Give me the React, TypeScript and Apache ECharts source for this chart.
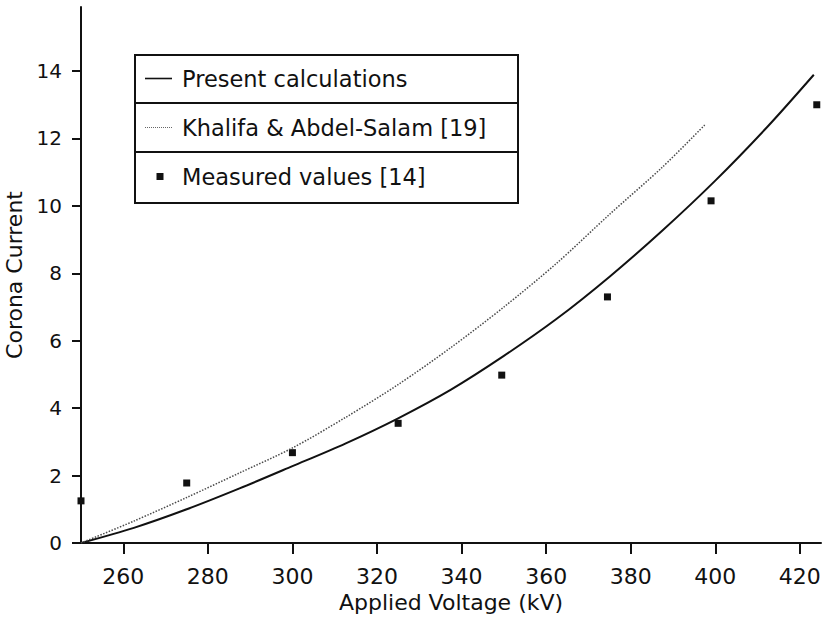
import React, { useEffect, useRef } from "react";
import * as echarts from "echarts";

// Present calculations (solid curve)
const presentX = [250, 262.5, 275, 287.5, 300, 312.5, 325, 337.5, 350, 362.5, 375, 387.5, 400, 412.5, 423.3];
const presentY = [0, 0.45, 1.0, 1.62, 2.28, 2.95, 3.7, 4.55, 5.55, 6.65, 7.9, 9.27, 10.75, 12.37, 13.89];

// Khalifa & Abdel-Salam [19] (dotted curve)
const khalifaX = [250, 262.5, 275, 287.5, 300, 312.5, 325, 337.5, 350, 362.5, 375, 387.5, 397.5];
const khalifaY = [0, 0.65, 1.35, 2.08, 2.82, 3.72, 4.7, 5.8, 7.0, 8.3, 9.75, 11.15, 12.4];

// Measured values [14]
const measuredX = [250, 275, 300, 325, 349.5, 374.5, 399, 424];
const measuredY = [1.25, 1.78, 2.68, 3.55, 4.98, 7.3, 10.15, 13.0];

const xTicks = [260, 280, 300, 320, 340, 360, 380, 400, 420];
const yTicks = [0, 2, 4, 6, 8, 10, 12, 14];

const seriesNames = ["Present calculations", "Khalifa & Abdel-Salam [19]", "Measured values [14]"];

const FONT = "'DejaVu Sans', 'Liberation Sans', sans-serif";

// legend icon shapes (box 32 x 8)
const solidIcon = "path://M0,0M32,8M0,3.2h27v1.6h-27z";
let dots = "path://M0,0M32,8";
for (let i = 0; i < 27; i += 2) dots += `M${i},3.4h1v1.2h-1z`;
const dottedIcon = dots;
const squareIcon = "path://M0,0M32,8M11.5,0.5h7v7h-7z";

export default function App() {
  const ref = useRef<HTMLDivElement>(null);

  useEffect(() => {
    if (!ref.current) return;
    const chart = echarts.init(ref.current, undefined, { renderer: "svg" });
    const zip = (xs: number[], ys: number[]) => xs.map((x, i) => [x, ys[i]]);

    chart.setOption({
      animation: false,
      backgroundColor: "#ffffff",
      textStyle: { fontFamily: FONT },
      grid: { left: 81, right: 2, top: 7, bottom: 76, containLabel: false, outerBoundsMode: "none" },
      xAxis: {
        type: "value",
        min: 250,
        max: 425,
        name: "Applied Voltage (kV)",
        nameLocation: "middle",
        nameGap: 46,
        nameTextStyle: { fontSize: 22, color: "#111", fontFamily: FONT },
        axisLine: { show: true, onZero: false, lineStyle: { color: "#111", width: 2 } },
        axisTick: { show: true, inside: false, length: 11, customValues: xTicks, lineStyle: { color: "#111", width: 2 } },
        axisLabel: { customValues: xTicks, fontSize: 22, color: "#111", margin: 22, fontFamily: FONT },
        splitLine: { show: false },
      },
      yAxis: {
        type: "value",
        min: 0,
        max: 15.9,
        name: "Corona Current",
        nameLocation: "middle",
        nameGap: 52,
        nameTextStyle: { fontSize: 22, color: "#111", fontFamily: FONT },
        axisLine: { show: true, onZero: false, lineStyle: { color: "#111", width: 2 } },
        axisTick: { show: true, inside: false, length: 9, customValues: yTicks, lineStyle: { color: "#111", width: 2 } },
        axisLabel: { customValues: yTicks, fontSize: 20, color: "#111", margin: 19, fontFamily: FONT },
        splitLine: { show: false },
      },
      legend: {
        orient: "vertical",
        left: 145,
        top: 67,
        itemWidth: 32,
        itemHeight: 8,
        itemGap: 26,
        padding: 0,
        textStyle: { fontSize: 22.5, color: "#111", fontFamily: FONT },
        data: [
          { name: seriesNames[0], icon: solidIcon, itemStyle: { color: "#111", opacity: 1 } },
          { name: seriesNames[1], icon: dottedIcon, itemStyle: { color: "#666", opacity: 1 } },
          { name: seriesNames[2], icon: squareIcon, itemStyle: { color: "#111", opacity: 1 } },
        ],
      },
      graphic: [
        {
          type: "rect",
          shape: { x: 135, y: 55, width: 383, height: 148 },
          style: { fill: "none", stroke: "#111", lineWidth: 2 },
          silent: true,
        },
        {
          type: "line",
          shape: { x1: 135, y1: 103, x2: 518, y2: 103 },
          style: { stroke: "#111", lineWidth: 2 },
          silent: true,
        },
        {
          type: "line",
          shape: { x1: 135, y1: 152, x2: 518, y2: 152 },
          style: { stroke: "#111", lineWidth: 2 },
          silent: true,
        },
      ],
      series: [
        {
          name: seriesNames[0],
          type: "line",
          data: zip(presentX, presentY),
          symbol: "none",
          smooth: 0.3,
          lineStyle: { color: "#111", width: 2 },
          itemStyle: { color: "#111" },
        },
        {
          name: seriesNames[1],
          type: "line",
          data: zip(khalifaX, khalifaY),
          symbol: "none",
          smooth: 0.3,
          lineStyle: { color: "#4a4a4a", width: 1.5, type: [1.5, 1.5] },
          itemStyle: { color: "#4a4a4a" },
        },
        {
          name: seriesNames[2],
          type: "scatter",
          data: zip(measuredX, measuredY),
          symbol: "rect",
          symbolSize: 7,
          itemStyle: { color: "#111", opacity: 1 },
        },
      ],
    });

    return () => chart.dispose();
  }, []);

  return (
    <div
      ref={ref}
      style={{ position: "fixed", left: 0, top: 0, width: 823, height: 619, background: "#fff" }}
    />
  );
}
